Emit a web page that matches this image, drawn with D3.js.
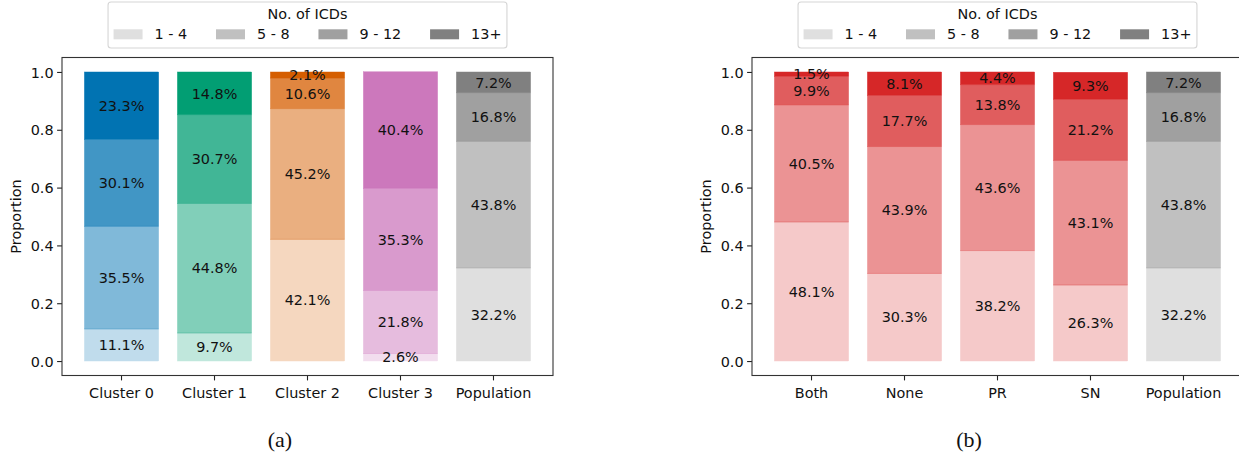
<!DOCTYPE html>
<html>
<head>
<meta charset="utf-8">
<script src="https://cdn.jsdelivr.net/npm/d3@7"></script>
<style>
  html, body { margin: 0; padding: 0; background: #fff; }
  svg { display: block; }
  text { font-family: "DejaVu Sans", sans-serif; }
</style>
</head>
<body>
<svg id="chart" width="1239" height="459"></svg>
<script>
// ---------------- data ----------------
const icdBins = ["1 - 4", "5 - 8", "9 - 12", "13+"];
const yTicks = [0.0, 0.2, 0.4, 0.6, 0.8, 1.0];

const categoriesA = ["Cluster 0", "Cluster 1", "Cluster 2", "Cluster 3", "Population"];
const cluster0 = [11.1, 35.5, 30.1, 23.3];
const cluster1 = [9.7, 44.8, 30.7, 14.8];
const cluster2 = [42.1, 45.2, 10.6, 2.1];
const cluster3 = [2.6, 21.8, 35.3, 40.4];
const population = [32.2, 43.8, 16.8, 7.2];
const colorsA = ["#0173b2", "#029e73", "#d55e00", "#cc78bc", "#808080"];

const categoriesB = ["Both", "None", "PR", "SN", "Population"];
const groupBoth = [48.1, 40.5, 9.9, 1.5];
const groupNone = [30.3, 43.9, 17.7, 8.1];
const groupPR = [38.2, 43.6, 13.8, 4.4];
const groupSN = [26.3, 43.1, 21.2, 9.3];
const colorsB = ["#d62728", "#d62728", "#d62728", "#d62728", "#808080"];

const binAlphas = [0.25, 0.5, 0.75, 1.0];
const legendColor = "#808080";

// ---------------- drawing ----------------
const svg = d3.select("#chart");
const FS = 14.4;

function blend(hex, a) {
  const c = d3.rgb(hex);
  return d3.rgb(
    Math.round(c.r * a + 255 * (1 - a)),
    Math.round(c.g * a + 255 * (1 - a)),
    Math.round(c.b * a + 255 * (1 - a))
  ).formatHex();
}

function drawPanel(opts) {
  const { left, right, top, bottom, categories, series, colors, caption, captionX } = opts;
  const g = svg.append("g");

  const x = d3.scaleBand().domain(categories).range([left, right])
    .paddingInner(0.2).paddingOuter(0.24);
  const y = d3.scaleLinear().domain([-0.05, 1.05]).range([bottom, top]);

  // bars
  categories.forEach((cat, i) => {
    const vals = series[i];
    let acc = 0;
    vals.forEach((v, j) => {
      const p0 = acc / 100, p1 = (acc + v) / 100;
      acc += v;
      const fill = blend(colors[i], binAlphas[j]);
      g.append("rect")
        .attr("x", x(cat))
        .attr("width", x.bandwidth())
        .attr("y", y(p1))
        .attr("height", y(p0) - y(p1))
        .attr("fill", fill)
        .attr("stroke", fill)
        .attr("stroke-width", 0.3);
      if (j > 0) {
        g.append("line")
          .attr("x1", x(cat)).attr("x2", x(cat) + x.bandwidth())
          .attr("y1", y(p0)).attr("y2", y(p0))
          .attr("stroke", colors[i])
          .attr("stroke-opacity", 0.35)
          .attr("stroke-width", 0.8);
      }
    });
    acc = 0;
    vals.forEach((v) => {
      const mid = (acc + v / 2) / 100;
      acc += v;
      g.append("text")
        .attr("x", x(cat) + x.bandwidth() / 2)
        .attr("y", y(mid))
        .attr("dy", "0.36em")
        .attr("text-anchor", "middle")
        .attr("font-size", FS)
        .attr("fill", "#111")
        .text(v.toFixed(1) + "%");
    });
  });

  // axes
  const yAxis = d3.axisLeft(y).tickValues(yTicks).tickFormat(d3.format(".1f"))
    .tickSize(4.9).tickPadding(3.5);
  const ya = g.append("g").attr("transform", `translate(${left},0)`).call(yAxis);
  const xAxis = d3.axisBottom(x).tickSize(4.9).tickPadding(3.5);
  const xa = g.append("g").attr("transform", `translate(0,${bottom})`).call(xAxis);
  [ya, xa].forEach(a => {
    a.select(".domain").remove();
    a.selectAll("line").attr("stroke", "#222").attr("stroke-width", 1.1);
    a.selectAll("text").attr("font-size", FS).attr("fill", "#111")
      .style("font-family", "DejaVu Sans, sans-serif");
  });
  xa.selectAll("text").attr("dy", "0.95em");
  ya.selectAll("text").attr("dy", "0.36em");

  // frame
  g.append("rect")
    .attr("x", left).attr("y", top)
    .attr("width", right - left).attr("height", bottom - top)
    .attr("fill", "none").attr("stroke", "#333").attr("stroke-width", 1.1);

  // y label
  g.append("text")
    .attr("transform", `translate(${left - 46},${(top + bottom) / 2}) rotate(-90)`)
    .attr("text-anchor", "middle")
    .attr("dy", "0.36em")
    .attr("font-size", FS)
    .attr("fill", "#111")
    .text("Proportion");

  // legend
  const lg = g.append("g");
  const box = lg.append("rect")
    .attr("fill", "#fff").attr("stroke", "#d5d5d5").attr("stroke-width", 1.1)
    .attr("rx", 3).attr("ry", 3);
  const title = lg.append("text")
    .attr("text-anchor", "middle")
    .attr("font-size", FS).attr("fill", "#111")
    .text("No. of ICDs");
  let cx = 0;
  const entries = [];
  icdBins.forEach((b, j) => {
    const patch = lg.append("rect")
      .attr("x", cx).attr("y", 29.3).attr("width", 29).attr("height", 10)
      .attr("fill", blend(legendColor, binAlphas[j]));
    const t = lg.append("text")
      .attr("x", cx + 41).attr("y", 39.3)
      .attr("font-size", FS).attr("fill", "#111")
      .text(b);
    const w = t.node().getComputedTextLength();
    entries.push({ patch, t });
    cx = cx + 41 + w + (j < icdBins.length - 1 ? 28.8 : 0);
  });
  const contentW = cx;
  const boxW = contentW + 11;
  const center = (left + right) / 2;
  const boxL = center - boxW / 2;
  lg.attr("transform", `translate(${boxL},0)`);
  entries.forEach(e => {
    e.patch.attr("x", +e.patch.attr("x") + 5.5);
    e.t.attr("x", +e.t.attr("x") + 5.5);
  });
  box.attr("x", 0).attr("y", 2).attr("width", boxW).attr("height", 46);
  title.attr("x", boxW / 2).attr("y", 19);

  // caption
  svg.append("text")
    .attr("x", captionX).attr("y", 447)
    .attr("text-anchor", "middle")
    .attr("font-size", 22)
    .style("font-family", "'Liberation Serif', 'DejaVu Serif', serif")
    .attr("fill", "#111")
    .text(caption);
}

drawPanel({
  left: 62, right: 553, top: 57.5, bottom: 375.5,
  categories: categoriesA,
  series: [cluster0, cluster1, cluster2, cluster3, population],
  colors: colorsA,
  caption: "(a)", captionX: 280
});

drawPanel({
  left: 752, right: 1243, top: 57.5, bottom: 375.5,
  categories: categoriesB,
  series: [groupBoth, groupNone, groupPR, groupSN, population],
  colors: colorsB,
  caption: "(b)", captionX: 969
});
</script>
</body>
</html>
